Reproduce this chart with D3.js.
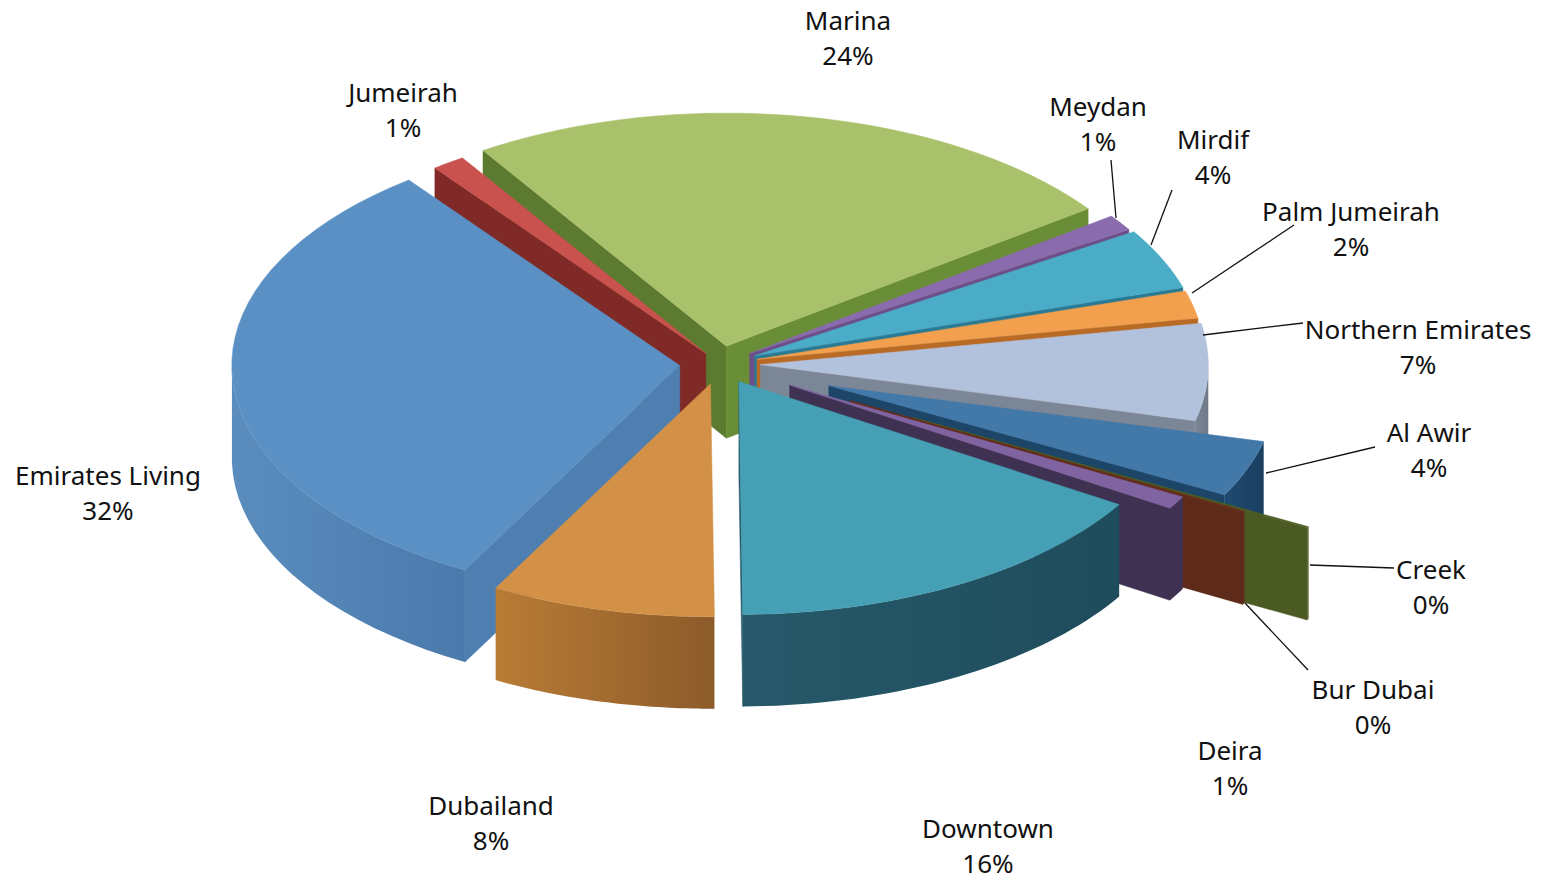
<!DOCTYPE html>
<html>
<head>
<meta charset="utf-8">
<script src="https://cdn.jsdelivr.net/npm/d3@7"></script>
<style>
  html, body { margin: 0; background: #fff; }
  svg { display: block; }
  text { font-family: "Noto Sans", sans-serif; font-size: 26px; fill: #111; }
</style>
</head>
<body>
<svg id="chart" width="1551" height="881"></svg>
<script>
// clockwise from the Marina slice
const categories = ['Marina', 'Meydan', 'Mirdif', 'Palm Jumeirah', 'Northern Emirates', 'Al Awir', 'Creek',
  'Bur Dubai', 'Deira', 'Downtown', 'Dubailand', 'Emirates Living', 'Jumeirah']
const shares = [24.1, 1.1, 4.2, 1.9, 6.7, 3.9, 0.1, 0.1, 0.9, 16.0, 8.1, 31.7, 1.2]

// how far each slice is pulled out, as a part of the radius
const explosion = [0.078, 0.08, 0.085, 0.085, 0.09, 0.26, 0.488, 0.33, 0.18, 0.086, 0.087, 0.09, 0.055]

const topColors = ['#a9c16a', '#8a6cae', '#4bacc8', '#f2a04e', '#b2c2dc', '#4279a8', '#4f5f24',
  '#6a2f1c', '#8064a2', '#459fb5', '#d29146', '#5b90c5', '#c9524e']
const wallColors = ['#5c7a30', '#5e4476', '#256a80', '#a05c20', '#7b8797', '#1c4568', '#4b5a22',
  '#5e2a1a', '#3f3151', '#22596a', '#9a6428', '#4f7fb0', '#7f2a26']
const rimLeft = ['#6f8c3a', '#5e4476', '#2d7d96', '#a86222', '#7b8797', '#1f4a70', '#4b5a22',
  '#5e2a1a', '#3f3151', '#26596a', '#b97c35', '#5a8dbe', '#7f2a26']
const rimRight = ['#6f8c3a', '#5e4476', '#2d7d96', '#a86222', '#6e7886', '#1a3f60', '#4b5a22',
  '#5e2a1a', '#3f3151', '#1f4c5c', '#8c5b2a', '#4a7aab', '#7f2a26']

// back to front
const drawOrder = ['Marina', 'Jumeirah', 'Emirates Living', 'Meydan', 'Mirdif', 'Palm Jumeirah', 'Northern Emirates',
  'Al Awir', 'Creek', 'Bur Dubai', 'Deira', 'Dubailand', 'Downtown']

// label centre and first line middle
const labelSpots = {
  'Marina': [848, 21], 'Jumeirah': [403, 93], 'Meydan': [1098, 107], 'Mirdif': [1213, 140],
  'Palm Jumeirah': [1351, 212], 'Northern Emirates': [1418, 330], 'Al Awir': [1429, 433],
  'Creek': [1431, 570], 'Bur Dubai': [1373, 690], 'Deira': [1230, 751], 'Downtown': [988, 829],
  'Dubailand': [491, 806], 'Emirates Living': [108, 476]
}
const leaders = [
  [[1111, 160], [1116, 218]], [[1172, 190], [1151, 245]], [[1294, 225], [1192, 293]],
  [[1303, 323], [1203, 335]], [[1375, 447], [1266, 473]], [[1394, 568], [1310, 565]],
  [[1308, 670], [1245, 603]]
]

const depth = 92
const deg = Math.PI / 180
const x = d3.scaleLinear().domain([-1, 1]).range([720 - 448, 720 + 448])
const y = d3.scaleLinear().domain([-1, 1]).range([364 - 233, 364 + 233])

const svg = d3.select('#chart')
const defs = svg.append('defs')
const line = d3.line().curve(d3.curveLinearClosed)

const pie = d3.pie().sort(null).value(d => d)
  .startAngle(-32.9 * deg).endAngle((360 - 32.9) * deg)
const arcs = pie(shares)

/**
 * Gives the point of a slice on the unit circle, pushed out by the slice's explosion.
 *
 * @param {object} slice The pie slice
 * @param {number} angle The angle, clockwise from the top
 * @param {number} r The distance from the slice's apex
 * @returns {number[]} The point in pixels
 */
function point (slice, angle, r) {
  const mid = (slice.startAngle + slice.endAngle) / 2
  const e = explosion[slice.index]
  return [
    x(e * Math.sin(mid) + r * Math.sin(angle)),
    y(-e * Math.cos(mid) - r * Math.cos(angle))
  ]
}

function drop (p) {
  return [p[0], p[1] + depth]
}

function wall (slice, angle, color) {
  const a = point(slice, angle, 0)
  const b = point(slice, angle, 1)
  svg.append('path')
    .attr('d', line([a, b, drop(b), drop(a)]))
    .attr('fill', color)
    .attr('stroke', color)
    .attr('stroke-width', 0.5)
}

drawOrder.forEach(name => {
  const i = categories.indexOf(name)
  const slice = arcs[i]
  const a0 = slice.startAngle
  const a1 = slice.endAngle
  const steps = d3.range(0, 41).map(t => a0 + (a1 - a0) * t / 40)

  // only the faces turned towards the viewer
  if (Math.sin(a0) < 0) wall(slice, a0, wallColors[i])
  if (Math.sin(a1) > 0) {
    const c = a1 < 90 * deg ? d3.color(wallColors[i]).brighter(0.4).formatHex() : wallColors[i]
    wall(slice, a1, c)
  }

  const front = steps.filter(a => Math.cos(a) < 0)
  if (front.length > 1) {
    const id = 'rim' + i
    const rimTop = front.map(a => point(slice, a, 1))
    const grad = defs.append('linearGradient').attr('id', id)
      .attr('gradientUnits', 'userSpaceOnUse')
      .attr('x1', d3.min(rimTop, p => p[0])).attr('x2', d3.max(rimTop, p => p[0]))
      .attr('y1', 0).attr('y2', 0)
    grad.append('stop').attr('offset', 0).attr('stop-color', rimLeft[i])
    grad.append('stop').attr('offset', 1).attr('stop-color', rimRight[i])
    svg.append('path')
      .attr('d', line(rimTop.concat(rimTop.map(drop).reverse())))
      .attr('fill', `url(#${id})`)
  }

  const top = [point(slice, a0, 0)].concat(steps.map(a => point(slice, a, 1)))
  svg.append('path')
    .attr('d', line(top))
    .attr('fill', topColors[i])
    .attr('stroke', topColors[i])
    .attr('stroke-width', 0.5)
})

svg.selectAll('.leader')
  .data(leaders)
  .join('line')
  .attr('class', 'leader')
  .attr('x1', d => d[0][0]).attr('y1', d => d[0][1])
  .attr('x2', d => d[1][0]).attr('y2', d => d[1][1])
  .attr('stroke', '#111')
  .attr('stroke-width', 1.3)

const labels = svg.selectAll('.label')
  .data(categories)
  .join('g')
  .attr('class', 'label')
  .attr('transform', d => `translate(${labelSpots[d][0]},${labelSpots[d][1]})`)

labels.append('text')
  .attr('text-anchor', 'middle')
  .attr('y', 9)
  .text(d => d)

labels.append('text')
  .attr('text-anchor', 'middle')
  .attr('y', 44)
  .text((d, i) => Math.round(shares[i]) + '%')
</script>
</body>
</html>
